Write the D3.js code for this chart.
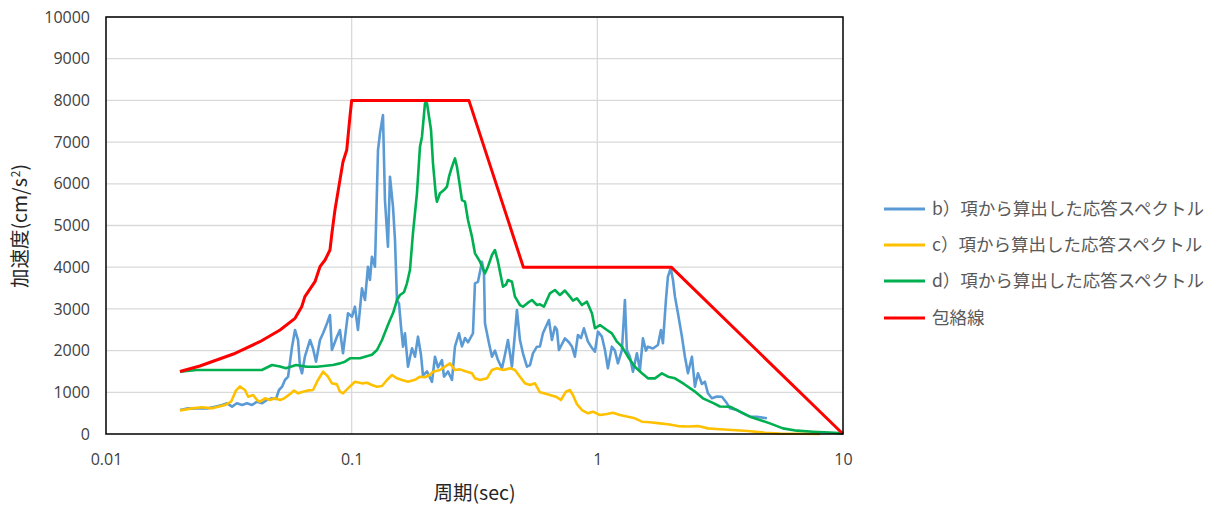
<!DOCTYPE html>
<html><head><meta charset="utf-8">
<script src="https://cdn.jsdelivr.net/npm/d3@7/dist/d3.min.js"></script>
<style>body{margin:0;background:#fff}svg{display:block}</style>
</head><body>
<svg id="c" width="1219" height="507"></svg>
<script>
// ---- data ----
const xTicks = [0.01, 0.1, 1, 10];
const xTickLabels = ["0.01", "0.1", "1", "10"];
const yTicks = [0,1000,2000,3000,4000,5000,6000,7000,8000,9000,10000];
const seriesNames = ["b）項から算出した応答スペクトル","c）項から算出した応答スペクトル","d）項から算出した応答スペクトル","包絡線"];

const bPeriod = [0.0200,0.0216,0.0237,0.0260,0.0278,0.0297,0.0311,0.0326,0.0341,0.0358,0.0375,0.0393,0.0412,0.0431,0.0452,0.0474,0.0492,0.0506,0.0521,0.0535,0.0551,0.0572,0.0588,0.0605,0.0616,0.0628,0.0645,0.0664,0.0677,0.0696,0.0716,0.0743,0.0765,0.0794,0.0816,0.0831,0.0871,0.0896,0.0922,0.0966,0.1003,0.1031,0.1061,0.1101,0.1133,0.1165,0.1187,0.1209,0.1244,0.1280,0.1304,0.1341,0.1366,0.1405,0.1432,0.1473,0.1501,0.1529,0.1558,0.1588,0.1618,0.1648,0.1695,0.1760,0.1810,0.1862,0.1915,0.1951,0.2026,0.2123,0.2183,0.2246,0.2331,0.2376,0.2467,0.2561,0.2633,0.2734,0.2812,0.2892,0.2975,0.3117,0.3176,0.3267,0.3392,0.3456,0.3488,0.3622,0.3725,0.3831,0.3941,0.4091,0.4207,0.4327,0.4492,0.4620,0.4707,0.4842,0.4980,0.5170,0.5318,0.5469,0.5677,0.5840,0.6006,0.6353,0.6534,0.6720,0.6847,0.6978,0.7380,0.7662,0.7880,0.8104,0.8337,0.8574,0.8819,0.9158,0.9419,0.9777,1.006,1.044,1.074,1.104,1.146,1.179,1.213,1.259,1.295,1.319,1.357,1.396,1.449,1.491,1.533,1.577,1.607,1.684,1.765,1.815,1.849,1.902,1.938,1.99,2.032,2.070,2.129,2.210,2.273,2.338,2.427,2.496,2.568,2.665,2.741,2.820,2.927,3.068,3.215,3.369,3.465,3.700,3.914,4.180,4.463,4.901];
const bValue = [575,615,615,615,655,695,736,655,736,695,736,695,775,736,815,855,840,1055,1134,1295,1374,2094,2494,2254,1614,1456,1854,2094,2254,2050,1734,2254,2415,2655,2854,2014,2334,2494,1935,2894,2813,3053,2494,3494,3213,4012,3693,4252,4012,6810,7211,7650,5611,4492,6170,5451,4652,3213,3134,2573,2094,2415,1614,2055,1854,2334,1900,1400,1500,1250,1854,1600,1774,1374,1500,1295,2094,2415,2100,2300,2200,2415,3614,3650,4132,3853,2655,2175,1854,2000,1774,1575,1900,2254,1614,2415,2974,2254,1935,1614,1650,1935,2094,2100,2415,2734,2254,2573,2500,2014,2295,2200,2100,1854,2374,2300,2535,2214,2100,1974,2454,2334,2014,1575,2094,2000,1694,2014,3213,2014,1854,1494,1935,1535,2295,2000,2094,2050,2134,2494,2175,3213,3773,3974,3693,3294,2894,2334,1854,1456,1854,1134,1456,1200,1254,976,856,900,895,736,616,575,496,415,415,376];

const cPeriod = [0.0200,0.0224,0.0246,0.0270,0.0286,0.0305,0.0323,0.0338,0.0351,0.0368,0.0379,0.0397,0.0412,0.0423,0.0444,0.0465,0.0487,0.0511,0.0530,0.0561,0.0583,0.0605,0.0634,0.0657,0.0696,0.0729,0.0765,0.0801,0.0831,0.0871,0.0896,0.0922,0.0966,0.1031,0.1101,0.1154,0.1209,0.1268,0.1329,0.1392,0.1459,0.1529,0.1603,0.1695,0.1810,0.1897,0.1988,0.2084,0.2143,0.2288,0.2398,0.2513,0.2633,0.2760,0.2947,0.3088,0.3176,0.3329,0.3554,0.3725,0.3903,0.4129,0.4409,0.4620,0.4842,0.5074,0.5318,0.5572,0.5840,0.6062,0.6413,0.6783,0.7109,0.7449,0.7734,0.7954,0.8257,0.8655,0.9158,0.9596,1.025,1.094,1.157,1.236,1.332,1.422,1.519,1.637,1.798,1.938,2.129,2.338,2.568,2.820,3.155,3.531,4.103,4.810,5.536,6.677,8.054];
const cValue = [565,615,640,615,655,695,775,1040,1140,1055,895,935,815,775,855,815,855,815,850,960,1040,975,1015,1040,1055,1295,1494,1374,1215,1190,1015,975,1095,1254,1215,1230,1175,1134,1150,1295,1415,1335,1295,1254,1300,1374,1360,1420,1494,1535,1614,1694,1535,1550,1494,1456,1335,1295,1335,1535,1575,1535,1575,1535,1374,1215,1175,1215,1000,975,935,895,815,1015,1055,935,715,575,496,535,455,480,511,455,415,376,295,280,255,232,190,180,190,135,115,96,72,31,10,5,2];

const dPeriod = [0.0200,0.0234,0.0393,0.0431,0.0474,0.0511,0.0540,0.0594,0.0657,0.0722,0.0839,0.0896,0.0939,0.0984,0.1081,0.1133,0.1209,0.1268,0.1329,0.1379,0.1432,0.1473,0.1529,0.1573,0.1633,0.1679,0.1727,0.1776,0.1844,0.1897,0.1933,0.1988,0.2026,0.2104,0.2143,0.2204,0.2224,0.2288,0.2376,0.2443,0.2490,0.2561,0.2633,0.2683,0.2734,0.2812,0.2892,0.2975,0.3088,0.3176,0.3329,0.3488,0.3588,0.3725,0.3831,0.3941,0.4129,0.4247,0.4327,0.4492,0.4620,0.4842,0.4980,0.5220,0.5419,0.5677,0.5840,0.6062,0.6413,0.6720,0.7043,0.7380,0.7734,0.7954,0.8257,0.8655,0.9070,0.9507,0.9777,1.025,1.094,1.146,1.201,1.259,1.332,1.422,1.519,1.607,1.716,1.832,1.938,2.070,2.252,2.473,2.690,2.983,3.155,3.465,3.806,4.180,4.590,5.041,5.694,6.492,7.542,8.845,10];
const dValue = [1494,1535,1535,1535,1655,1620,1575,1655,1614,1614,1655,1694,1734,1815,1815,1854,1900,2014,2254,2494,2734,2894,3213,3334,3400,3614,3933,4813,5772,6890,7130,7930,7930,7290,6490,5691,5571,5772,5851,5931,6170,6410,6610,6410,6091,5611,5571,5131,4732,4333,4132,3853,4012,4292,4412,4132,3533,3580,3693,3650,3294,3093,3053,3150,3213,3093,3110,3053,3374,3453,3334,3440,3294,3200,3254,3093,3174,2894,2535,2614,2494,2415,2214,2094,1854,1614,1456,1335,1335,1456,1374,1335,1200,1035,855,735,660,655,535,415,335,255,135,80,55,35,15];

const envPeriod = [0.02,0.0241,0.033,0.0423,0.0511,0.0588,0.0626,0.0645,0.0709,0.0743,0.0779,0.0816,0.0831,0.0855,0.0896,0.0922,0.0955,0.0984,0.1,0.3,0.5,2,10];
const envValue = [1500,1630,1918,2214,2494,2774,3053,3294,3653,4012,4172,4412,4813,5371,6091,6530,6811,7610,8000,8000,4000,4000,0];

const colors = ["#5B9BD5","#FFC000","#00B050","#FF0000"];

// ---- chart ----
const svg = d3.select("#c");
const L = 106, R = 843, T = 17, B = 434;
const x = d3.scaleLog().domain([0.01, 10]).range([L, R]);
const y = d3.scaleLinear().domain([0, 10000]).range([B, T]);
const font = "'Noto Sans CJK JP', 'Noto Sans', sans-serif";
const numFont = "'Open Sans', 'Noto Sans', sans-serif";

// gridlines
svg.append("g").selectAll("line").data(yTicks.slice(1)).join("line")
  .attr("x1", L).attr("x2", R).attr("y1", d => y(d)).attr("y2", d => y(d))
  .attr("stroke", "#d9d9d9").attr("stroke-width", 1.3);
svg.append("g").selectAll("line").data(xTicks.slice(1, -1)).join("line")
  .attr("x1", d => x(d)).attr("x2", d => x(d)).attr("y1", T).attr("y2", B)
  .attr("stroke", "#d9d9d9").attr("stroke-width", 1.3);

// axes (labels via d3 axis)
const yAxis = svg.append("g").attr("transform", `translate(${L},0)`)
  .call(d3.axisLeft(y).tickValues(yTicks).tickSize(0).tickPadding(16).tickFormat(d => String(d)));
yAxis.select(".domain").remove();
yAxis.selectAll("text").attr("font-family", numFont).attr("font-size", 16).attr("fill", "#404040");

const xAxis = svg.append("g").attr("transform", `translate(0,${B})`)
  .call(d3.axisBottom(x).tickValues(xTicks).tickSize(0).tickPadding(20).tickFormat((d, i) => xTickLabels[i]));
xAxis.select(".domain").remove();
xAxis.selectAll("text").attr("font-family", numFont).attr("font-size", 16).attr("fill", "#404040");

// series
const line = d3.line().x(d => x(d[0])).y(d => y(d[1]));
const series = [
  d3.zip(bPeriod, bValue),
  d3.zip(cPeriod, cValue),
  d3.zip(dPeriod, dValue),
  d3.zip(envPeriod, envValue)
];
const plot = svg.append("g");
series.forEach((s, i) => {
  plot.append("path").datum(s).attr("d", line)
    .attr("fill", "none").attr("stroke", colors[i])
    .attr("stroke-width", i === 3 ? 3 : 2.6).attr("stroke-linejoin", "round");
});

// plot border
svg.append("rect").attr("x", L).attr("y", T).attr("width", R - L).attr("height", B - T)
  .attr("fill", "none").attr("stroke", "#000").attr("stroke-width", 1.5);

// axis titles
svg.append("text").attr("x", (L + R) / 2).attr("y", 500).attr("text-anchor", "middle")
  .attr("font-family", font).attr("font-size", 19.5).attr("fill", "#262626").text("周期(sec)");
const yt = svg.append("text").attr("transform", "translate(27,226) rotate(-90)")
  .attr("text-anchor", "middle").attr("font-family", font).attr("font-size", 19.5).attr("fill", "#262626");
yt.append("tspan").text("加速度(cm/s");
yt.append("tspan").attr("font-size", 12).attr("dy", -7).attr("dx", 1).text("2");
yt.append("tspan").attr("dy", 7).text(")");

// legend
const lg = svg.append("g");
const rows = [209, 245, 281, 318];
seriesNames.forEach((n, i) => {
  lg.append("line").attr("x1", 884).attr("x2", 925).attr("y1", rows[i]).attr("y2", rows[i])
    .attr("stroke", colors[i]).attr("stroke-width", 3);
  lg.append("text").attr("x", 932).attr("y", rows[i]).attr("dy", "0.35em")
    .attr("font-family", font).attr("font-size", 17.5).attr("fill", "#595959").text(n);
});
</script>
</body></html>
